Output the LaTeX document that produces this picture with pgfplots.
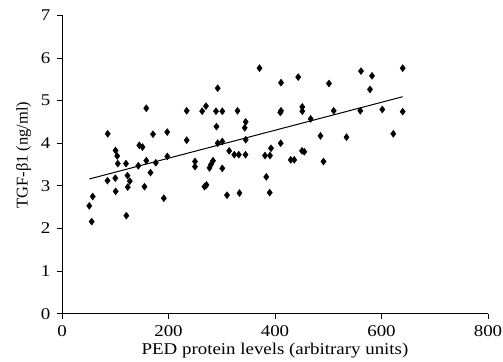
\documentclass[border=0pt]{standalone}
\usepackage{fontspec}
\setmainfont[FakeStretch=1.15]{Liberation Serif}
\newfontfamily\yfont{Liberation Serif}
\usepackage{pgfplots}
\pgfplotsset{compat=1.18}
\begin{document}
\begin{tikzpicture}
\path[use as bounding box] (-62bp,-48.3bp) rectangle (441bp,313.7bp);
\begin{axis}[at={(0,0)}, anchor=south west, scale only axis,
  width=426bp, height=298.4bp,
  xmin=0, xmax=800, ymin=0, ymax=7,
  axis x line=bottom, axis y line=left,
  axis line style={-, line width=0.8bp, black},
  tick align=outside, major tick length=5bp,
  tick style={line width=0.8bp, black},
  xtick={0,200,400,600,800}, ytick={0,1,2,3,4,5,6,7},
  /pgf/number format/assume math mode=true,
  ticklabel style={font=\fontsize{16.5}{19}\selectfont, inner sep=0pt},
  xticklabel style={yshift=-6.5bp},
  yticklabel style={xshift=-6.5bp},
  label style={font=\fontsize{16.5}{19}\selectfont, inner sep=0pt},
  xlabel={PED protein levels (arbitrary units)},
  ylabel={\yfont TGF-β1 (ng/ml)},
  xlabel style={at={([yshift=-37bp]axis description cs:0.5,0)}, anchor=center},
  ylabel style={at={([xshift=-38.5bp]axis description cs:0,0.532)}, anchor=center},
  clip=false]
\addplot[only marks, mark=diamond*, mark size=3.5bp,
  mark options={fill=black, draw=black}] coordinates {
(51.3,2.53) (57.7,2.75) (55.8,2.16) (85.8,4.22) (85.4,3.12) (100.1,3.18)
(100.5,3.83) (103.7,3.70) (104.8,3.52) (120.2,3.52) (100.8,2.87) (123.0,3.24)
(127.3,3.11) (123.4,2.97) (120.8,2.30) (145.2,3.95) (151.2,3.91) (158.3,4.82)
(158.3,3.59) (143.3,3.47) (154.9,2.98) (166.2,3.31) (170.9,4.21) (176.2,3.54)
(191.2,2.71) (197.6,4.26) (197.7,3.69) (234.2,4.76) (234.2,4.07) (249.8,3.57)
(249.8,3.45) (263.3,4.75) (270.4,4.87) (289.2,4.75) (301.0,4.75) (292.4,5.29)
(329.6,4.76) (345.0,4.50) (343.1,4.36) (290.1,4.39) (292.4,4.00) (301.0,4.04)
(345.0,4.08) (314.0,3.82) (323.6,3.73) (332.0,3.73) (344.6,3.73) (283.6,3.59)
(279.8,3.50) (277.0,3.42) (301.0,3.41) (267.6,2.98) (271.4,3.02) (309.9,2.78)
(333.3,2.83) (370.9,5.76) (411.3,5.42) (443.6,5.55) (501.4,5.40) (410.0,4.72)
(411.3,4.76) (451.3,4.85) (451.3,4.75) (510.2,4.76) (467.0,4.57) (485.4,4.17)
(410.7,4.00) (392.5,3.88) (381.2,3.71) (390.6,3.71) (429.5,3.61) (436.1,3.61)
(450.7,3.82) (455.0,3.80) (491.1,3.57) (383.7,3.21) (390.0,2.84) (561.5,5.69)
(582.2,5.58) (639.8,5.76) (578.4,5.26) (560.2,4.76) (601.5,4.79) (639.8,4.74)
(534.3,4.14) (622.2,4.22)
};
\addplot[no marks, black, line width=1bp] coordinates {(51.3,3.16) (639.8,5.09)};
\end{axis}
\end{tikzpicture}
\end{document}
